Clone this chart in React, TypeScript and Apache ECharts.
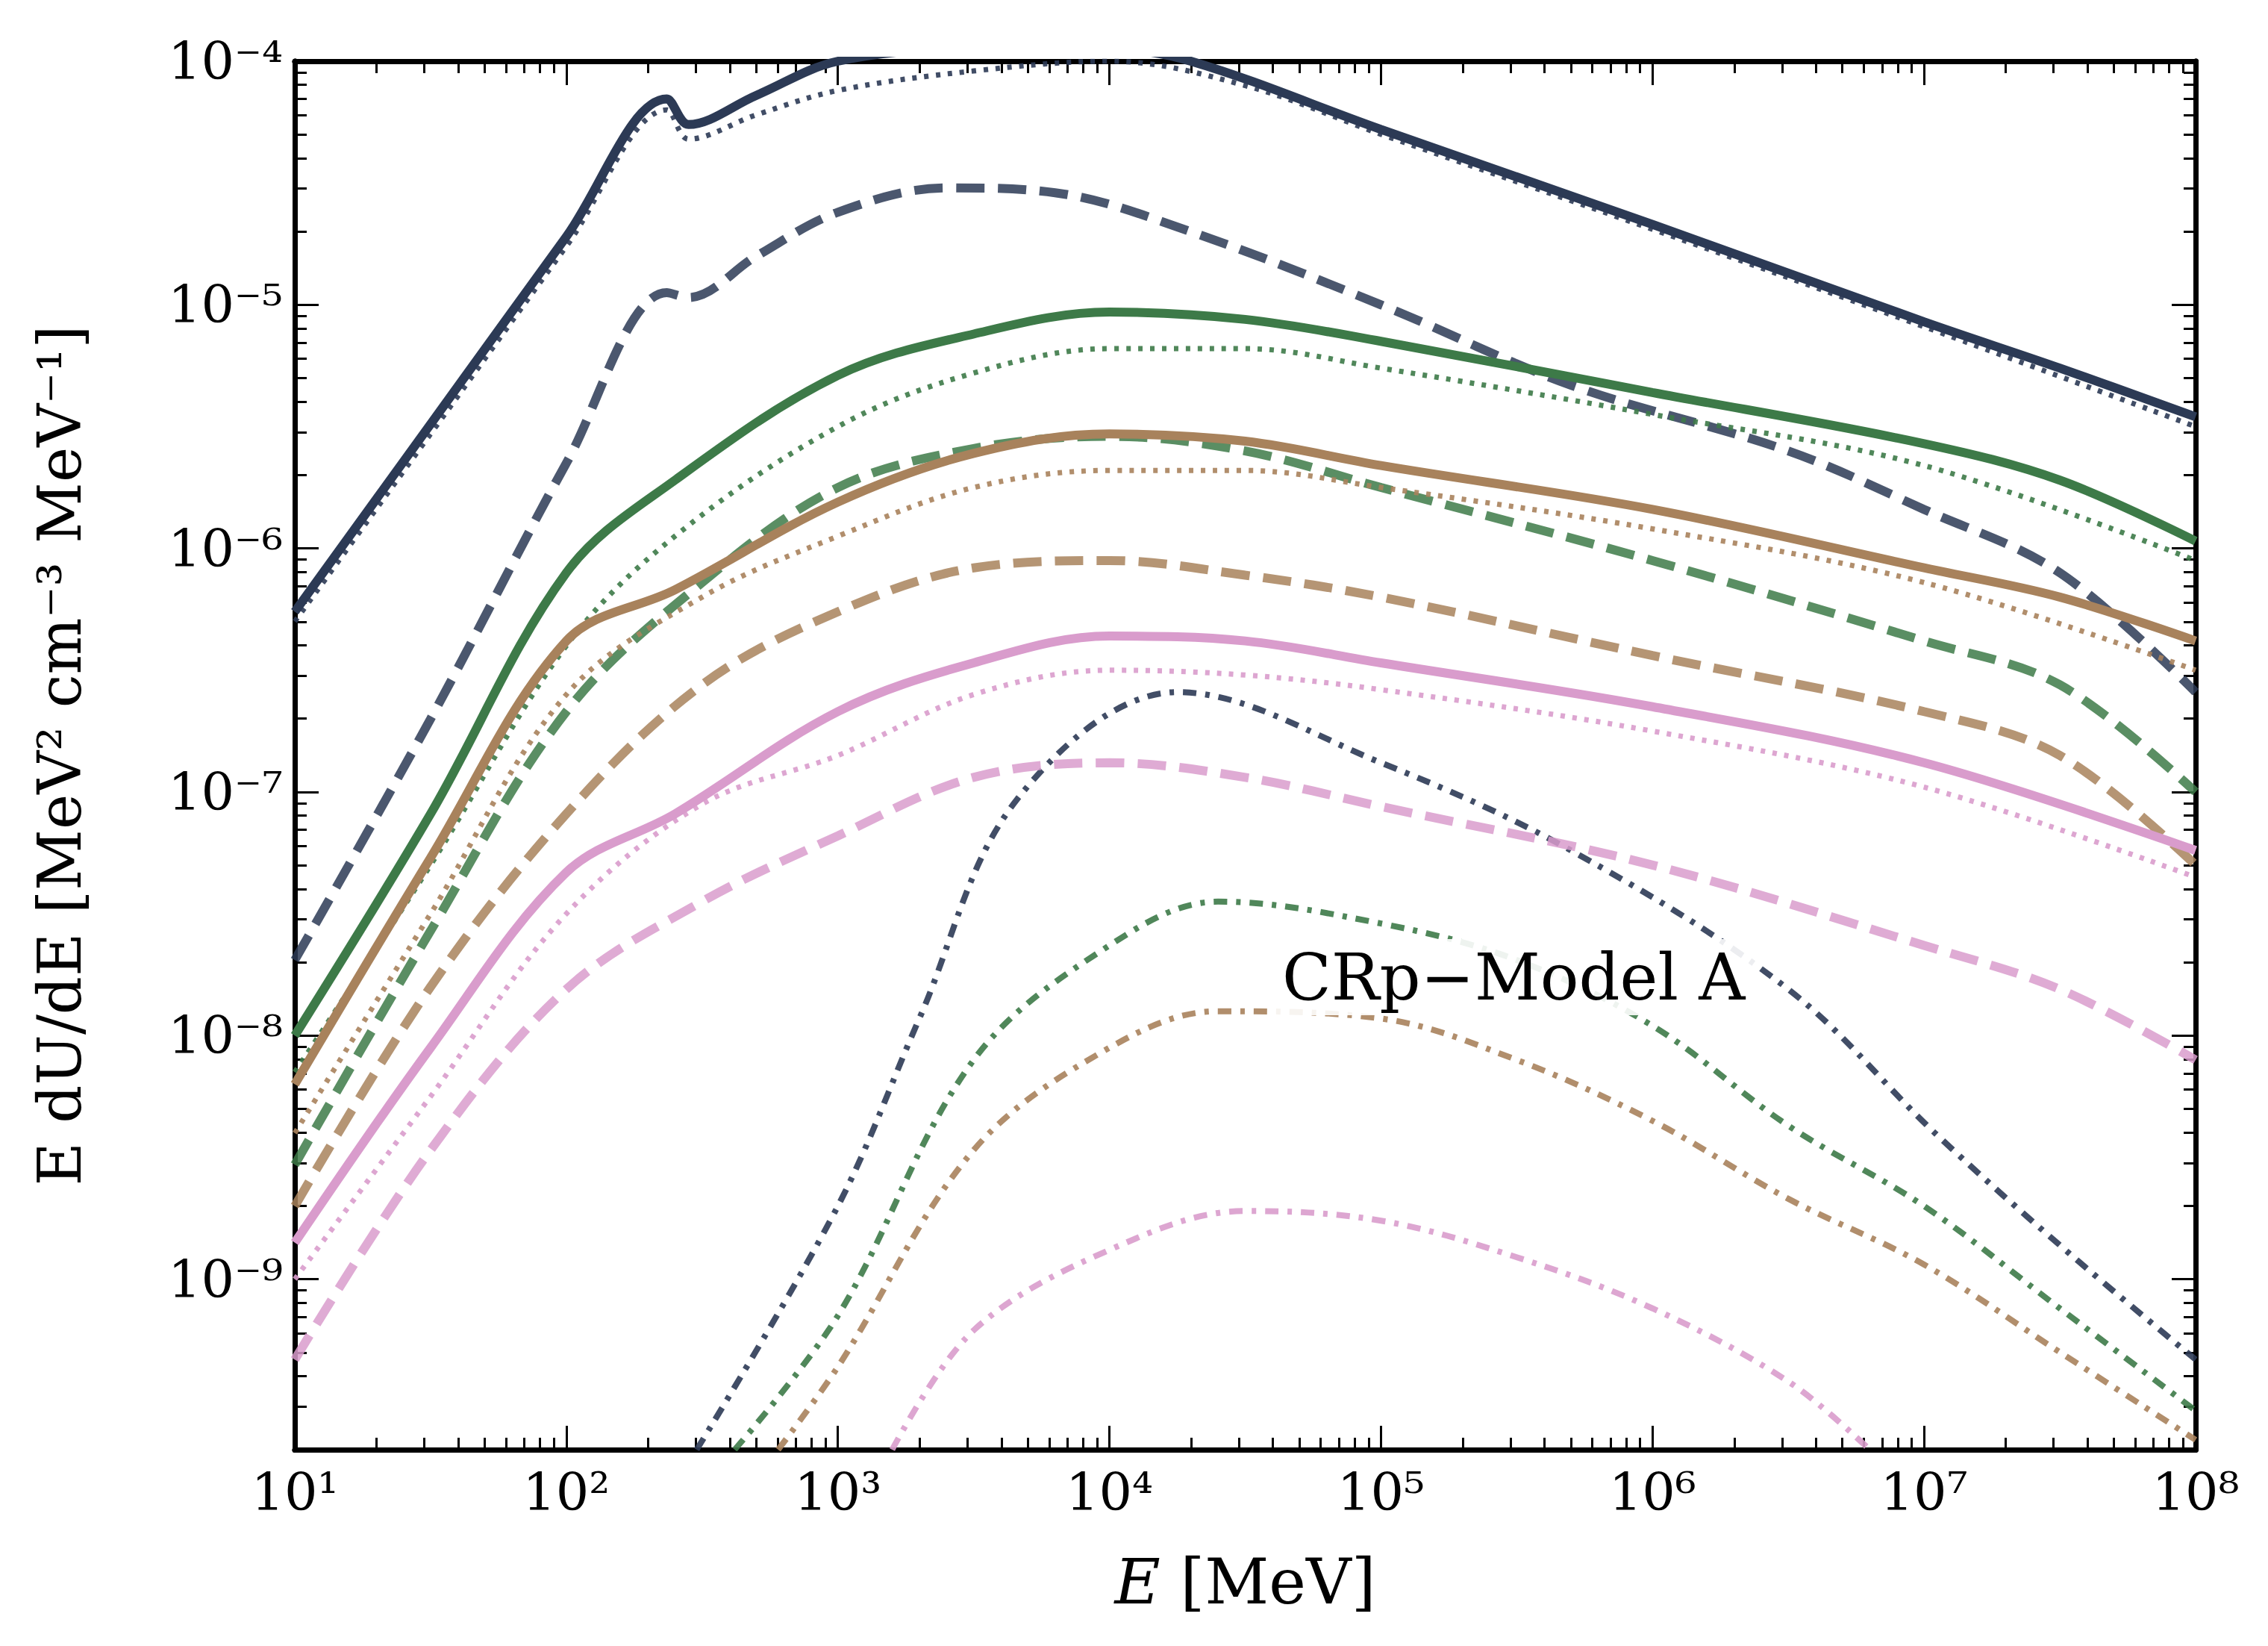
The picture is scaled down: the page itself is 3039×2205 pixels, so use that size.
import { useEffect, useRef } from "react";
import * as echarts from "echarts";

// x = log10(E / MeV), y = log10(E dU/dE)
type Pt = [number, number];

const navySolid: Pt[] = [[1, -6.26], [1.5, -5.49], [2, -4.72], [2.37, -4.155], [2.45, -4.26], [2.7, -4.14], [3, -4.0], [3.5, -3.95], [4, -3.95], [4.3, -4.0], [5, -4.28], [6, -4.67], [7, -5.07], [7.5, -5.26], [8, -5.46]];
const navyDotted: Pt[] = [[1, -6.3], [1.5, -5.53], [2, -4.76], [2.37, -4.2], [2.45, -4.32], [2.7, -4.22], [3, -4.12], [3.5, -4.04], [4, -4.0], [4.5, -4.1], [5, -4.3], [6, -4.69], [7, -5.09], [8, -5.5]];
const navyDashed: Pt[] = [[1, -7.69], [1.5, -6.7], [2, -5.65], [2.37, -4.95], [2.45, -4.97], [2.7, -4.8], [3, -4.62], [3.4, -4.52], [3.8, -4.54], [4.3, -4.7], [5, -5.0], [5.7, -5.33], [6.5, -5.6], [7, -5.84], [7.5, -6.1], [8, -6.59]];
const navyDashDot: Pt[] = [[2.48, -9.7], [3, -8.7], [3.3, -7.93], [3.66, -7.03], [4.25, -6.59], [5, -6.88], [5.7, -7.24], [6.5, -7.81], [7.04, -8.4], [7.52, -8.88], [8, -9.33]];

const greenSolid: Pt[] = [[1, -8.0], [1.5, -7.09], [2, -6.1], [2.4, -5.72], [3, -5.29], [3.5, -5.12], [4, -5.03], [4.5, -5.06], [5, -5.15], [6, -5.36], [7, -5.57], [7.5, -5.72], [8, -5.97]];
const greenDotted: Pt[] = [[1, -8.15], [1.5, -7.3], [2, -6.4], [2.4, -5.95], [3, -5.5], [3.5, -5.28], [4, -5.18], [4.5, -5.18], [5, -5.26], [6, -5.45], [7, -5.66], [8, -6.05]];
const greenDashed: Pt[] = [[1, -8.53], [1.5, -7.57], [2, -6.67], [2.5, -6.14], [3, -5.75], [3.5, -5.59], [4, -5.54], [4.5, -5.6], [5, -5.75], [6, -6.05], [7, -6.38], [7.5, -6.56], [8, -7.0]];
const greenDashDot: Pt[] = [[2.62, -9.7], [3, -9.15], [3.5, -8.1], [4, -7.63], [4.4, -7.45], [5, -7.54], [5.5, -7.69], [6, -7.96], [6.5, -8.37], [7, -8.7], [7.5, -9.12], [8, -9.54]];

const brownSolid: Pt[] = [[1, -8.2], [1.5, -7.27], [2, -6.38], [2.4, -6.17], [3, -5.81], [3.5, -5.61], [4, -5.53], [4.5, -5.56], [5, -5.66], [6, -5.84], [7, -6.08], [7.5, -6.2], [8, -6.38]];
const brownDotted: Pt[] = [[1, -8.4], [1.5, -7.5], [2, -6.6], [2.5, -6.2], [3, -5.95], [3.5, -5.75], [4, -5.68], [4.5, -5.68], [5, -5.75], [6, -5.92], [7, -6.14], [8, -6.5]];
const brownDashed: Pt[] = [[1, -8.7], [1.5, -7.8], [2, -7.09], [2.5, -6.56], [3, -6.26], [3.5, -6.08], [4, -6.05], [4.5, -6.11], [5, -6.2], [6, -6.44], [7, -6.67], [7.5, -6.85], [8, -7.3]];
const brownDashDot: Pt[] = [[2.78, -9.7], [3, -9.36], [3.5, -8.47], [4, -8.05], [4.4, -7.9], [5, -7.93], [5.5, -8.1], [6, -8.35], [6.5, -8.67], [7, -8.94], [7.5, -9.3], [8, -9.66]];

const pinkSolid: Pt[] = [[1, -8.85], [1.5, -8.05], [2, -7.33], [2.4, -7.09], [3, -6.67], [3.5, -6.47], [4, -6.36], [4.5, -6.38], [5, -6.47], [6, -6.65], [7, -6.88], [8, -7.24]];
const pinkDotted: Pt[] = [[1, -9.0], [1.5, -8.25], [2, -7.5], [2.5, -7.05], [3, -6.85], [3.5, -6.6], [4, -6.5], [4.5, -6.52], [5, -6.58], [6, -6.75], [7, -6.98], [8, -7.35]];
const pinkDashed: Pt[] = [[1, -9.33], [1.5, -8.47], [2, -7.81], [2.5, -7.45], [3, -7.18], [3.5, -6.94], [4, -6.88], [4.5, -6.94], [5, -7.06], [6, -7.3], [7, -7.63], [7.5, -7.81], [8, -8.1]];
const pinkDashDot: Pt[] = [[3.2, -9.7], [3.5, -9.21], [4, -8.88], [4.5, -8.72], [5, -8.76], [5.5, -8.91], [6, -9.12], [6.5, -9.42], [6.8, -9.7]];

const xMajor = [1, 2, 3, 4, 5, 6, 7, 8];
const yMajor = [-9, -8, -7, -6, -5, -4];

const palette = {
  navy: "#2c3a55",
  green: "#3d7a48",
  brown: "#a8825c",
  pink: "#d99ccc",
};

const SUP: Record<string, string> = { "-": "⁻", "0": "⁰", "1": "¹", "2": "²", "3": "³", "4": "⁴", "5": "⁵", "6": "⁶", "7": "⁷", "8": "⁸", "9": "⁹" };
const pow10 = (v: number): string => "10" + String(Math.round(v)).split("").map((c) => SUP[c] ?? c).join("");

const minorTicks = (from: number, to: number): number[] => {
  const out: number[] = [];
  for (let d = Math.floor(from); d < to; d++) {
    for (let k = 2; k <= 9; k++) {
      const v = d + Math.log10(k);
      if (v > from && v < to) out.push(v);
    }
  }
  return out;
};

const FONT = "DejaVu Serif";

export default function App() {
  const ref = useRef<HTMLDivElement | null>(null);

  useEffect(() => {
    if (!ref.current) return;
    const chart = echarts.init(ref.current, null, { renderer: "svg" });

    const frame = { show: true, onZero: false, lineStyle: { color: "#000", width: 7 } };
    const labelStyle = { fontFamily: FONT, fontSize: 70, color: "#000" };

    const xAxis = (position: "top" | "bottom", ticks: number[], len: number, labels: boolean) => ({
      type: "value",
      min: 1,
      max: 8,
      position,
      axisLine: frame,
      splitLine: { show: false },
      axisTick: { show: true, inside: true, length: len, customValues: ticks, lineStyle: { width: 3, color: "#000" } },
      axisLabel: labels
        ? { show: true, ...labelStyle, margin: 22, customValues: xMajor, formatter: (v: number) => pow10(v) }
        : { show: false },
    });
    const yAxis = (position: "left" | "right", ticks: number[], len: number, labels: boolean) => ({
      type: "value",
      min: -9.7,
      max: -4,
      position,
      axisLine: frame,
      splitLine: { show: false },
      axisTick: { show: true, inside: true, length: len, customValues: ticks, lineStyle: { width: 3, color: "#000" } },
      axisLabel: labels
        ? { show: true, ...labelStyle, margin: 16, customValues: yMajor, formatter: (v: number) => pow10(v) }
        : { show: false },
    });

    const xMinor = minorTicks(1, 8);
    const yMinor = minorTicks(-9.7, -4);

    const line = (data: Pt[], color: string, kind: "solid" | "dotted" | "dashed" | "dashdot") => {
      const styles = {
        solid: { width: 12, type: "solid" as any, opacity: 1 },
        dotted: { width: 7, type: [6, 10] as any, opacity: 0.9 },
        dashed: { width: 12, type: [38, 18] as any, opacity: 0.85 },
        dashdot: { width: 8, type: [18, 12, 6, 12] as any, opacity: 0.9 },
      }[kind];
      return {
        type: "line",
        data,
        showSymbol: false,
        smooth: 0.35,
        silent: true,
        lineStyle: { color, width: styles.width, type: styles.type, opacity: styles.opacity, cap: "butt" },
      };
    };

    chart.setOption({
      animation: false,
      backgroundColor: "#fff",
      grid: { left: 395, top: 82, width: 2547, height: 1860, containLabel: false },
      xAxis: [
        {
          ...xAxis("bottom", xMajor, 32, true),
          name: "{i|E} [MeV]",
          nameLocation: "middle",
          nameGap: 135,
          nameTextStyle: { fontFamily: FONT, fontSize: 84, color: "#000", rich: { i: { fontFamily: FONT, fontStyle: "italic", fontSize: 84 } } },
        },
        xAxis("top", xMajor, 32, false),
        xAxis("bottom", xMinor, 16, false),
        xAxis("top", xMinor, 16, false),
      ],
      yAxis: [
        {
          ...yAxis("left", yMajor, 32, true),
          name: "E dU/dE [MeV² cm⁻³ MeV⁻¹]",
          nameLocation: "middle",
          nameGap: 275,
          nameRotate: 90,
          nameTextStyle: { fontFamily: FONT, fontSize: 80, color: "#000" },
        },
        yAxis("right", yMajor, 32, false),
        yAxis("left", yMinor, 16, false),
        yAxis("right", yMinor, 16, false),
      ],
      series: [
        line(navySolid, palette.navy, "solid"),
        line(navyDotted, palette.navy, "dotted"),
        line(navyDashed, palette.navy, "dashed"),
        line(navyDashDot, palette.navy, "dashdot"),
        line(greenSolid, palette.green, "solid"),
        line(greenDotted, palette.green, "dotted"),
        line(greenDashed, palette.green, "dashed"),
        line(greenDashDot, palette.green, "dashdot"),
        line(brownSolid, palette.brown, "solid"),
        line(brownDotted, palette.brown, "dotted"),
        line(brownDashed, palette.brown, "dashed"),
        line(brownDashDot, palette.brown, "dashdot"),
        line(pinkSolid, palette.pink, "solid"),
        line(pinkDotted, palette.pink, "dotted"),
        line(pinkDashed, palette.pink, "dashed"),
        line(pinkDashDot, palette.pink, "dashdot"),
      ],
      graphic: [
        {
          type: "text",
          left: 1700,
          top: 1258,
          z: 100,
          style: {
            text: "CRp−Model A",
            fontFamily: FONT,
            fontSize: 86,
            fill: "#000",
            backgroundColor: "rgba(255,255,255,0.9)",
            padding: [8, 18],
          },
        },
      ],
    });

    return () => chart.dispose();
  }, []);

  return <div ref={ref} style={{ position: "fixed", left: 0, top: 0, width: 3039, height: 2205, background: "#fff" }} />;
}
